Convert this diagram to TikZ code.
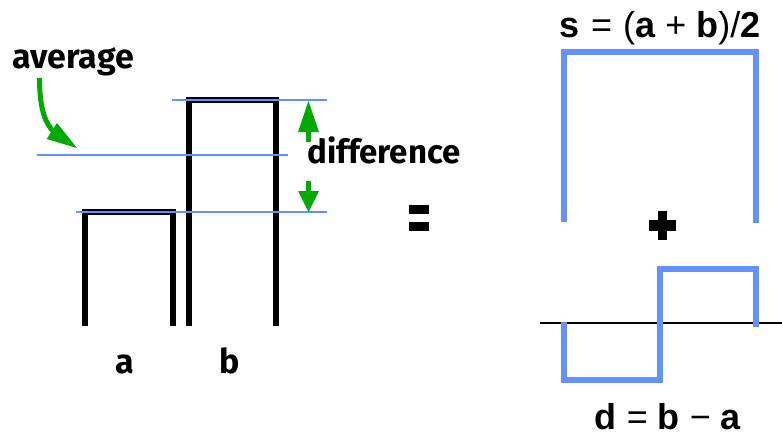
\documentclass[tikz,border=0pt]{standalone}
\usepackage{fontspec}
\setmainfont{Fira Sans}
\newfontfamily\hel{Liberation Sans}
\usetikzlibrary{arrows.meta}
\definecolor{sigblue}{RGB}{100,145,255}
\definecolor{arrgreen}{RGB}{0,170,0}
\begin{document}
\begin{tikzpicture}[x=1pt,y=-1pt,
  bar/.style={line width=6pt, line join=miter, line cap=butt},
  level/.style={draw=sigblue, line width=2.5pt},
  sig/.style={draw=sigblue, line width=6pt, line join=miter},
  axis/.style={draw=black, line width=2.5pt},
  lbl/.style={font=\fontsize{34}{40}\selectfont\bfseries, inner sep=0pt},
  eq/.style={font=\hel\fontsize{36}{42}\selectfont, inner sep=0pt},
  gshaft/.style={draw=arrgreen, line width=5pt},
  ghead/.style={fill=arrgreen, draw=none},
  blk/.style={fill=black, draw=none}]
\useasboundingbox (0,0) rectangle (782,437);

% bars a and b
\draw[bar] (85,326) -- (85,212) -- (173,212) -- (173,326);
\draw[bar] (189,326) -- (189,100) -- (276,100) -- (276,326);

% level lines
\coordinate (topL) at (172,100);
\coordinate (topR) at (327,100);
\coordinate (avgL) at (37,155);
\coordinate (avgR) at (288,155);
\coordinate (botL) at (76,212);
\coordinate (botR) at (327,212);
\draw[level] (topL) -- (topR);
\draw[level] (avgL) -- (avgR);
\draw[level] (botL) -- (botR);

% difference arrows
\coordinate (upS) at (308.5,142);
\coordinate (upE) at (308.5,128);
\draw[gshaft] (upS) -- (upE);
\fill[ghead] (298,132) -- (319,132) -- (308.5,101) -- cycle;
\coordinate (dnS) at (308.5,181);
\coordinate (dnE) at (308.5,195);
\draw[gshaft] (dnS) -- (dnE);
\fill[ghead] (298,191) -- (319,191) -- (308.5,212) -- cycle;

% labels
\node[lbl, anchor=base west] (avg) at (12,68) {average};
\node[lbl, anchor=base west, font=\fontsize{33}{40}\selectfont\bfseries] (diff) at (307,163) {difference};
\node[lbl, anchor=base] (la) at (124.5,373) {a};
\node[lbl, anchor=base] (lb) at (230,373) {b};

% average arrow
\coordinate (avS) at (39.5,78);
\coordinate (avE) at (55,133);
\draw[gshaft] (avS) .. controls (39.5,108) and (45,124) .. (avE);
\fill[ghead] (46.7,139) -- (57,123) -- (77,148) -- cycle;

% equals sign
\fill[blk] (409,205) rectangle (429,214);
\fill[blk] (409,222) rectangle (429,231);

% sum signal
\draw[sig] (564,222) -- (564,52) -- (756,52) -- (756,223);
\node[eq, anchor=base] (seq) at (660,37) {\textbf{s}\hspace{1.5pt} = \hspace{1pt}(\textbf{a} + \textbf{b})/\textbf{2}};

% plus sign
\fill[blk] (657.5,211) rectangle (666.5,240);
\fill[blk] (649,220) rectangle (676,231);

% difference signal
\coordinate (axL) at (540,323);
\coordinate (axR) at (782,323);
\draw[axis] (axL) -- (axR);
\draw[sig] (564,322) -- (564,379.5) -- (660,379.5) -- (660,269) -- (756,269) -- (756,327);
\node[eq, anchor=base] (deq) at (668,429) {\textbf{d} = \textbf{b} − \textbf{a}};
\end{tikzpicture}
\end{document}
